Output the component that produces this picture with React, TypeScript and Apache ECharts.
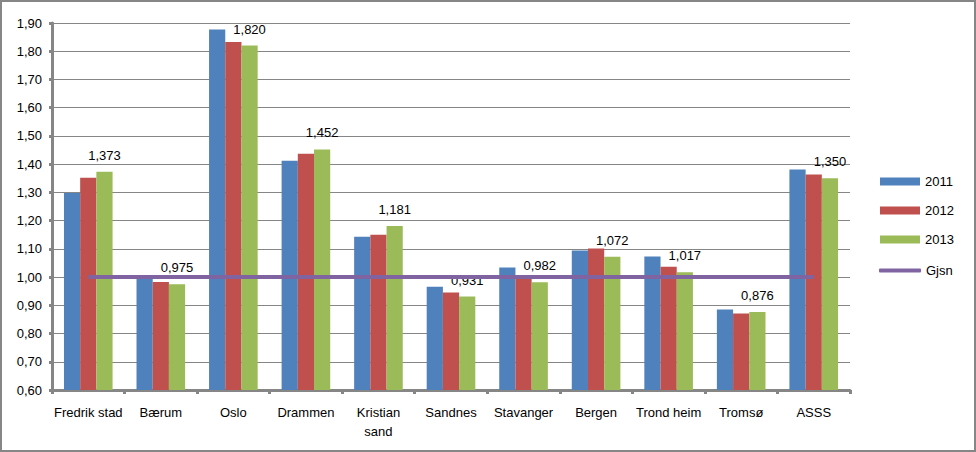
import React, { useEffect, useRef } from "react";
import * as echarts from "echarts";

const categories = ["Fredrik stad", "Bærum", "Oslo", "Drammen", "Kristian\nsand", "Sandnes", "Stavanger", "Bergen", "Trond heim", "Tromsø", "ASSS"];
const values2011 = [1.298, 0.998, 1.877, 1.412, 1.143, 0.966, 1.034, 1.094, 1.073, 0.885, 1.381];
const values2012 = [1.352, 0.983, 1.833, 1.437, 1.150, 0.945, 0.998, 1.101, 1.037, 0.871, 1.363];
const values2013 = [1.373, 0.975, 1.820, 1.452, 1.181, 0.931, 0.982, 1.072, 1.017, 0.876, 1.350];
const gjsn = [1, 1, 1, 1, 1, 1, 1, 1, 1, 1, 1];
const seriesNames = ["2011", "2012", "2013"];

const FONT = "'Liberation Sans', Arial, sans-serif";
const GRAY = "#868686";

export default function App() {
  const ref = useRef<HTMLDivElement>(null);
  useEffect(() => {
    if (!ref.current) return;
    const chart = echarts.init(ref.current, undefined, { renderer: "svg" });
    const barBase = {
      type: "bar" as const,
      barGap: "0%",
      barCategoryGap: "33%",
    };
    chart.setOption({
      animation: false,
      textStyle: { fontFamily: FONT, fontSize: 13, color: "#000" },
      grid: { left: 52, right: 126, top: 23, bottom: 62 },
      legend: [
        {
          orient: "vertical",
          left: 875,
          top: 170,
          itemWidth: 40,
          itemHeight: 8,
          itemGap: 16,
          icon: "rect",
          data: seriesNames,
          textStyle: { fontFamily: FONT, fontSize: 13, color: "#000" },
        },
        {
          orient: "vertical",
          left: 874,
          top: 259,
          itemWidth: 42,
          itemHeight: 4,
          icon: "roundRect",
          data: ["Gjsn"],
          textStyle: { fontFamily: FONT, fontSize: 13, color: "#000" },
        },
      ],
      xAxis: {
        type: "category",
        data: categories,
        boundaryGap: true,
        axisLine: { lineStyle: { color: GRAY, width: 3 } },
        axisTick: { show: true, length: 4, lineStyle: { color: GRAY, width: 3 } },
        axisLabel: { color: "#000", fontFamily: FONT, fontSize: 13, margin: 13, interval: 0, lineHeight: 19 },
      },
      yAxis: {
        type: "value",
        min: 0.6,
        max: 1.9,
        interval: 0.1,
        axisLine: { show: true, lineStyle: { color: GRAY, width: 3 } },
        axisTick: { show: true, length: 3, lineStyle: { color: GRAY, width: 3 } },
        splitLine: { lineStyle: { color: GRAY, width: 1 } },
        axisLabel: {
          color: "#000",
          fontFamily: FONT,
          fontSize: 13,
          margin: 10,
          formatter: (v: number) => v.toFixed(2).replace(".", ","),
        },
      },
      series: [
        { ...barBase, name: "2011", data: values2011, itemStyle: { color: "#4F81BD" } },
        { ...barBase, name: "2012", data: values2012, itemStyle: { color: "#C0504D" } },
        {
          ...barBase,
          name: "2013",
          data: values2013,
          itemStyle: { color: "#9BBB59" },
          label: {
            show: true,
            position: "top",
            distance: 10,
            color: "#000",
            fontFamily: FONT,
            fontSize: 13,
            formatter: (p: any) => p.value.toFixed(3).replace(".", ","),
          },
        },
        {
          type: "line",
          name: "Gjsn",
          data: gjsn,
          symbol: "none",
          itemStyle: { color: "#8064A2" },
          lineStyle: { color: "#8064A2", width: 4 },
          z: 3,
        },
      ],
    });
    return () => chart.dispose();
  }, []);
  return (
    <>
      <div
        ref={ref}
        style={{ position: "fixed", left: 0, top: 0, width: 976, height: 452, background: "#fff" }}
      />
      <div
        style={{
          position: "fixed",
          left: 0,
          top: 0,
          width: 976,
          height: 452,
          boxSizing: "border-box",
          border: `2px solid ${GRAY}`,
          pointerEvents: "none",
        }}
      />
    </>
  );
}
